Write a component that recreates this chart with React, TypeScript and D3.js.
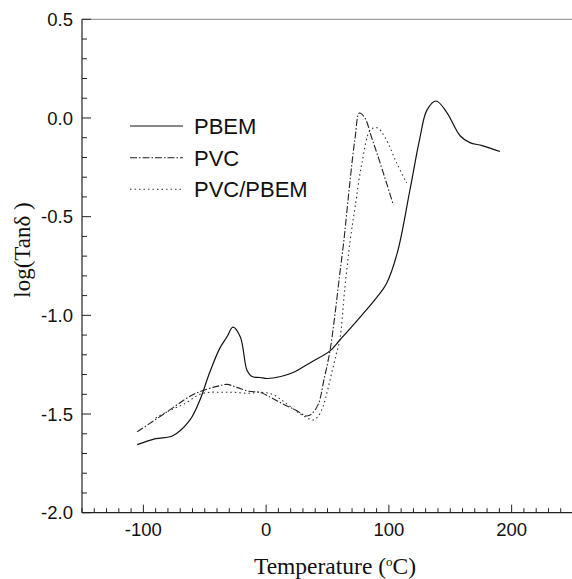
import React from "react";
import * as d3 from "d3";

const pbemT = [-105, -90, -76, -62, -54, -46, -38, -32, -27, -21, -15.5, -11.6, -5, 1, 12, 22, 36, 52, 60, 75, 90, 98, 107, 117, 125, 131, 138.5, 147, 158, 166, 176, 190.5];
const pbemV = [-1.655, -1.625, -1.61, -1.53, -1.43, -1.29, -1.17, -1.11, -1.06, -1.11, -1.28, -1.31, -1.315, -1.32, -1.31, -1.29, -1.24, -1.18, -1.125, -1.02, -0.91, -0.84, -0.68, -0.37, -0.11, 0.04, 0.086, 0.03, -0.09, -0.125, -0.14, -0.17];

const pvcT = [-105, -81, -62, -51, -40, -32, -24, -14, -5, 5, 14, 24, 33, 37, 42.5, 47, 52, 56, 60, 63, 68.5, 72.5, 76, 80.5, 86, 93, 103.6];
const pvcV = [-1.59, -1.49, -1.41, -1.38, -1.36, -1.35, -1.365, -1.385, -1.39, -1.42, -1.45, -1.48, -1.51, -1.5, -1.45, -1.33, -1.18, -1.0, -0.79, -0.64, -0.31, -0.1, 0.025, 0.0, -0.1, -0.23, -0.44];

const blendT = [-90, -78, -67, -54, -46, -36, -27, -15, -5, 5, 15, 28, 38, 42, 46.5, 50, 53.5, 57, 60, 64, 68.5, 72.5, 78, 85, 90.5, 97, 106.5, 114.5];
const blendV = [-1.52, -1.48, -1.45, -1.40, -1.39, -1.39, -1.39, -1.395, -1.39, -1.40, -1.44, -1.50, -1.53, -1.515, -1.46, -1.38, -1.29, -1.20, -1.125, -0.87, -0.62, -0.45, -0.23, -0.06, -0.05, -0.1, -0.23, -0.33];

const seriesNames = ["PBEM", "PVC", "PVC/PBEM"];
const xTicks = [-100, 0, 100, 200];
const yTicks = [0.5, 0.0, -0.5, -1.0, -1.5, -2.0];

const W = 572;
const H = 579;

export default function App() {
  const x = d3.scaleLinear().domain([-150, 250]).range([82, 573]);
  const y = d3.scaleLinear().domain([-2, 0.5]).range([512.7, 19.3]);

  const line = d3
    .line<[number, number]>()
    .x((d) => x(d[0]))
    .y((d) => y(d[1]))
    .curve(d3.curveCatmullRom.alpha(0.5));

  const zip = (a: number[], b: number[]) => a.map((v, i) => [v, b[i]] as [number, number]);

  const series = [
    { name: seriesNames[0], d: zip(pbemT, pbemV), dash: undefined as string | undefined, color: "#111", w: 1.2 },
    { name: seriesNames[1], d: zip(pvcT, pvcV), dash: "7,2,1.5,2", color: "#222", w: 1.1 },
    { name: seriesNames[2], d: zip(blendT, blendV), dash: "1.5,3", color: "#333", w: 1.1 },
  ];

  const xMinor = d3.range(-150, 251, 10);
  const yMinor = d3.range(-20, 6, 1).map((v) => v / 10);

  const sans = "'Liberation Sans', Arial, sans-serif";
  const serif = "'Liberation Serif', 'Times New Roman', serif";
  const legendY = [126, 157.7, 189.3];

  return (
    <svg width={W} height={H} style={{ position: "absolute", left: 0, top: 0, background: "#fff" }}>
      <rect x={0} y={0} width={W} height={H} fill="#fff" />
      <line x1={x(-150)} x2={x(250)} y1={y(0.5)} y2={y(0.5)} stroke="#888" strokeWidth={1} />
      <line x1={x(-150)} x2={x(-150)} y1={y(0.5)} y2={y(-2)} stroke="#222" strokeWidth={1.2} />
      <line x1={x(-150)} x2={x(250)} y1={y(-2)} y2={y(-2)} stroke="#222" strokeWidth={1.2} />
      {xMinor.map((t) => {
        const major = t % 100 === 0;
        return (
          <line key={"xt" + t} x1={x(t)} x2={x(t)} y1={y(-2)} y2={y(-2) - (major ? 8 : 4.5)} stroke="#222" strokeWidth={1} />
        );
      })}
      {yMinor.map((t) => {
        const major = Math.abs(Math.round(t * 10)) % 5 === 0;
        return (
          <line key={"yt" + t} x1={x(-150)} x2={x(-150) + (major ? 9 : 5)} y1={y(t)} y2={y(t)} stroke="#222" strokeWidth={1} />
        );
      })}
      {xTicks.map((t) => (
        <text key={"xl" + t} x={x(t)} y={536} textAnchor="middle" fontFamily={sans} fontSize={18.5} fill="#111">
          {t}
        </text>
      ))}
      {yTicks.map((t) => (
        <text key={"yl" + t} x={73} y={y(t)} dy="0.36em" textAnchor="end" fontFamily={sans} fontSize={18.5} fill="#111">
          {t.toFixed(1)}
        </text>
      ))}
      <text x={335} y={574} textAnchor="middle" fontFamily={serif} fontSize={23.5} fill="#111">
        Temperature (<tspan dy={-8} fontSize={13}>o</tspan>
        <tspan dy={8}>C)</tspan>
      </text>
      <text transform={`translate(30,250) rotate(-90)`} textAnchor="middle" fontFamily={serif} fontSize={23} fill="#111">
        log(Tanδ )
      </text>
      {series.map((s) => (
        <path key={s.name} d={line(s.d) || ""} fill="none" stroke={s.color} strokeWidth={s.w} strokeDasharray={s.dash} />
      ))}
      {series.map((s, i) => (
        <g key={"lg" + s.name}>
          <line x1={130} x2={183} y1={legendY[i]} y2={legendY[i]} stroke={s.color} strokeWidth={s.w} strokeDasharray={s.dash} />
          <text x={194} y={legendY[i] + 7.8} fontFamily={sans} fontSize={22} fill="#111">
            {s.name}
          </text>
        </g>
      ))}
    </svg>
  );
}
